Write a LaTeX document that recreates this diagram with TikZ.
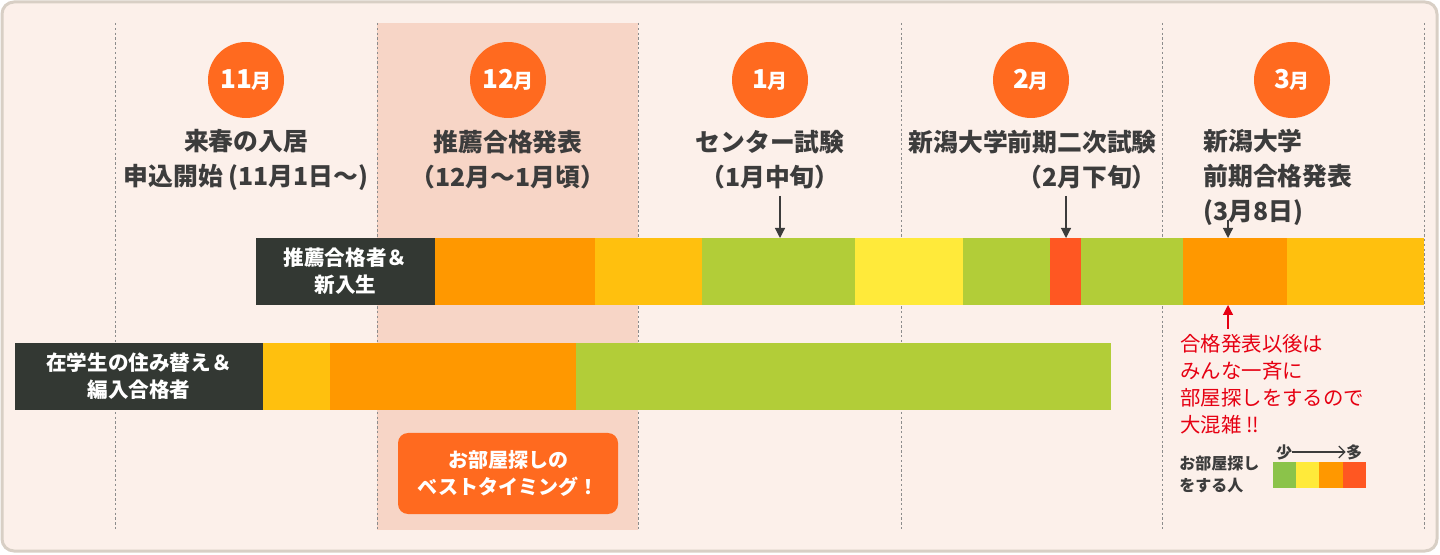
\documentclass[tikz,border=0pt]{standalone}
\usepackage{fontspec}
\setmainfont{Noto Sans CJK JP}
\usetikzlibrary{arrows.meta}

\definecolor{paper}{HTML}{FCF0EA}
\definecolor{cframe}{HTML}{D8CFC5}
\definecolor{peak}{HTML}{F7D5C6}
\definecolor{cguide}{HTML}{8C8C8C}
\definecolor{cmonth}{HTML}{FF6A1F}
\definecolor{cdark}{HTML}{333833}
\definecolor{cink}{HTML}{3C3C3C}
\definecolor{corange}{HTML}{FF9800}
\definecolor{camber}{HTML}{FFC00E}
\definecolor{cgreen}{HTML}{B2CD38}
\definecolor{cyellow}{HTML}{FFEA3A}
\definecolor{cred}{HTML}{FF5722}
\definecolor{clgreen}{HTML}{8BC34A}
\definecolor{calert}{HTML}{E60012}

\tikzset{
  month/.style={circle,fill=cmonth,text=white,minimum size=38pt,inner sep=0pt,font=\bfseries},
  headline/.style={text=cink,font=\bfseries\fontsize{12.4}{17.5}\selectfont,inner sep=0pt},
  tag/.style={fill=cdark,text=white,font=\bfseries\fontsize{10.3}{13.5}\selectfont,align=center,
    inner sep=0pt,outer sep=0pt,minimum height=33.5pt},
  seg/.style={inner sep=0pt,outer sep=0pt,minimum height=33.5pt},
  pointer/.style={draw=cink,line width=0.6pt,-{Triangle[width=5pt,length=5pt]}},
  alertpointer/.style={draw=calert,line width=0.6pt,-{Triangle[width=5pt,length=5pt]}},
  best/.style={fill=cmonth,text=white,rounded corners=5pt,minimum width=110pt,minimum height=40.5pt,
    align=center,font=\bfseries\fontsize{10}{13.5}\selectfont},
  note/.style={text=calert,align=left,inner sep=0pt,font=\fontsize{10.2}{13.5}\selectfont},
  legendtxt/.style={text=cink,align=left,inner sep=0pt,font=\bfseries\fontsize{8}{11}\selectfont},
  chip/.style={inner sep=0pt,outer sep=0pt,minimum width=11.7pt,minimum height=13pt}
}

\begin{document}
\begin{tikzpicture}[x=0.5pt,y=-0.5pt]
  \useasboundingbox (0,0) rectangle (1440,555);
  \draw[cframe,line width=1.5pt,fill=paper,rounded corners=6pt] (2,2) rectangle (1437,551);
  \fill[peak] (377,23) rectangle (638,530);
  \foreach \x in {115,377,638,901,1162,1424} {
    \draw[cguide,line width=0.5pt,dash pattern=on 1.2pt off 1.2pt] (\x,23) -- (\x,530);
  }

  % months
  \foreach \x/\m/\name in {246/11/nov,508/12/dec,770/1/jan,1031/2/feb,1292/3/mar} {
    \node[month] (\name) at (\x,80) {{\fontsize{13}{13}\selectfont\m}{\fontsize{10}{10}\selectfont 月}};
  }
  \node[headline,align=center] (novtxt) at (246,160) {来春の入居\\申込開始 (11月1日〜)};
  \node[headline,align=center] (dectxt) at (508,160) {推薦合格発表\\（12月〜1月頃）};
  \node[headline,align=center] (jantxt) at (770,160) {センター試験\\（1月中旬）};
  \node[headline,align=right,anchor=east] (febtxt) at (1157,160) {新潟大学前期二次試験\\（2月下旬）};
  \node[headline,align=left,anchor=west] (martxt) at (1203,177) {新潟大学\\前期合格発表\\(3月8日)};

  % rows
  \node[tag,minimum width=89.5pt,anchor=north west] (recruits) at (256,238) {推薦合格者＆\\新入生};
  \foreach \a/\b/\c [count=\i] in {435/595/corange,595/702/camber,702/855/cgreen,855/963/cyellow,
      963/1050/cgreen,1050/1081/cred,1081/1183/cgreen,1183/1287/corange,1287/1424/camber} {
    \node[seg,fill=\c,minimum width={(\b-\a)*0.5pt},anchor=north west] (ra\i) at (\a,238) {};
  }
  \node[tag,minimum width=124pt,anchor=north west] (students) at (15,343) {在学生の住み替え＆\\編入合格者};
  \foreach \a/\b/\c [count=\i] in {263/330/camber,330/576/corange,576/1111/cgreen} {
    \node[seg,fill=\c,minimum width={(\b-\a)*0.5pt},anchor=north west] (rb\i) at (\a,343) {};
  }

  \coordinate (janfoot) at (780,196);
  \coordinate (febfoot) at (1066,196);
  \coordinate (marfoot) at (1228,220);
  \draw[pointer] (janfoot) -- (janfoot |- ra3.north);
  \draw[pointer] (febfoot) -- (febfoot |- ra6.north);
  \draw[pointer] (marfoot) -- (marfoot |- ra8.north);

  \node[best] (besttime) at (508,473.5) {お部屋探しの\\ベストタイミング！};

  % crowd note
  \node[note,anchor=north west] (crowd) at (1180,334) {合格発表以後は\\みんな一斉に\\部屋探しをするので\\大混雑 !!};
  \coordinate (crowdtip) at (1228,329);
  \draw[alertpointer] (crowdtip) -- (crowdtip |- ra8.south);

  % legend
  \node[legendtxt,anchor=west] (who) at (1179,474) {お部屋探し\\をする人};
  \foreach \a/\c [count=\i] in {1272.5/clgreen,1295.9/cyellow,1319.3/corange,1342.7/cred} {
    \node[chip,fill=\c,anchor=north west] (chip\i) at (\a,462) {};
  }
  \node[legendtxt] (few) at (1284,452) {少};
  \node[legendtxt] (many) at (1354,452) {多};
  \draw[cink,line width=0.6pt,-{Straight Barb[length=3pt]}] (few) -- (many);
\end{tikzpicture}
\end{document}
